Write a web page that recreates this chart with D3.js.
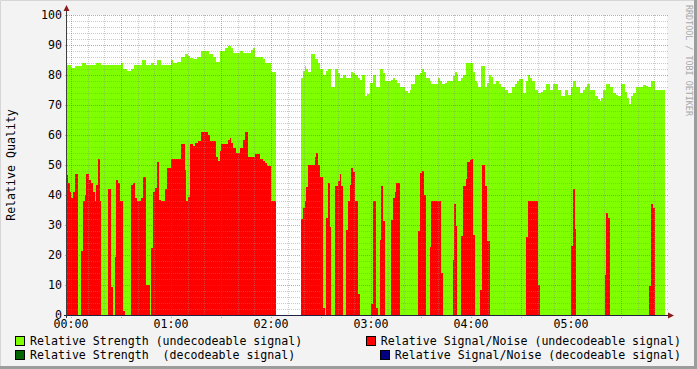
<!DOCTYPE html>
<html>
<head>
<meta charset="utf-8">
<script src="https://cdn.jsdelivr.net/npm/d3@7"></script>
<style>
  body { margin: 0; background: #f3f3f3; }
  text { font-family: "DejaVu Sans Mono", monospace; }
</style>
</head>
<body>
<svg id="chart" width="697" height="369"></svg>
<script>
// [minute after 00:00, value] - value holds until the next entry, null = no data
const strength = [
  [-2.4, 83.3], [-0.2, 82.5], [2.2, 83], [6.8, 84], [8.8, 83.3], [14.8, 84], [17.8, 83.3],
  [29.8, 84], [31.4, 82], [33.8, 81.3], [35.8, 82], [37.8, 83.3], [42.8, 85], [44.8, 83.3],
  [47.8, 84], [49.8, 83.3], [51.8, 85], [53.8, 83.3], [59.8, 85], [61.4, 84.1], [63.4, 84.4],
  [65.8, 86.1], [68.4, 87], [70.4, 86.4], [71.4, 85.8], [73.4, 85.2], [75.8, 86], [78, 88],
  [83, 87], [85, 86], [87, 84.3], [89.4, 88], [92.4, 89.1], [94.4, 89.8], [96, 89.1],
  [97.4, 87.2], [101.4, 88], [103.4, 87.2], [108, 88.3], [109.4, 89.1], [110.6, 86],
  [115, 85.2], [116.4, 84.1], [119.8, 81.1], [123, null],
  [137.8, 78.9], [139, 81.3], [140.2, 83], [141.2, 82], [142.2, 81.1], [143.8, 87],
  [146.6, 85.3], [148.2, 84], [149.4, 82], [151, 80], [153, 81.3], [154.2, 82], [155.8, 75.9],
  [158.2, 82], [160.2, 80.8], [161.2, 79.1], [163.2, 80], [165.2, 79.1], [167.8, 80.9],
  [169.2, 80.6], [170.6, 80], [172.2, 79], [173.2, 78.3], [174.8, 80], [176.6, 73.1],
  [177.8, 73.7], [179.4, 77.2], [181.2, 80], [182.8, 75.9], [185.6, 82], [187.2, 80.8],
  [188.6, 78.1], [191.8, 78.3], [193.2, 79], [194.6, 78.3], [195.8, 77.2], [197.2, 75.9],
  [200.6, 74.7], [202.4, 74.1], [203.4, 75], [204, 77], [206.4, 80], [209.4, 80.6],
  [210.8, 81.9], [211.8, 81.1], [213, 79.1], [215.4, 78.1], [216, 77], [220, 79],
  [221.4, 78.1], [222.8, 77], [224.4, 77.5], [225.4, 78.1], [229.4, 79.7], [230.4, 81.1],
  [231.4, 80.3], [232.4, 78.1], [234, 79], [235.4, 80], [237, 84.1], [241.4, 81.1],
  [242.4, 78.1], [243.4, 77.5], [244.4, 75.9], [246, 83], [248.4, 75.9], [249.4, 77.5],
  [251, 80], [252, 79.4], [253, 77], [255, 78.1], [257, 77], [258, 75.9], [260.4, 75],
  [262, 74.1], [264.4, 75.9], [266.4, 77], [267.4, 78.1], [268.8, 78.7], [271, 74.1],
  [273, 78.1], [274, 80], [275.4, 78.9], [276.4, 78.1], [278.4, 75], [280.2, 74.1],
  [282, 74.4], [283.4, 75], [284.8, 77], [287.4, 75], [289.4, 77], [292, 75], [294, 73.1],
  [296.4, 75], [298.4, 73.4], [299.8, 75.9], [301, 78.1], [302.8, 75.9], [305.4, 74.1],
  [307.4, 75], [308.4, 75.9], [309.8, 77], [311.4, 75], [314.4, 73.1], [316, 72],
  [317.4, 71.3], [318, 72.4], [319.4, 75], [321, 77], [323.4, 75.9], [325, 74.1],
  [327, 73.4], [328, 73.1], [330, 77], [332.4, 74.4], [333.8, 72.4], [335, 70.2],
  [336, 73.1], [337.4, 74], [339, 75.9], [343.4, 76.7], [345, 76.3], [346.4, 75.9],
  [347.8, 78.1], [350.4, 75], [356.4, null]
];

const signalNoise = [
  [-2.4, 46.7], [-1.8, 44], [-0.6, 41], [0.2, 39], [1.4, 41], [2.4, 47], [4.2, 0],
  [5.8, 21.4], [7.2, 38], [8.4, 40], [9, 47], [11, 45], [11.8, 44], [13.2, 41], [14.4, 38],
  [15, 43.3], [16.2, 52], [17.4, 38], [18.2, 0], [22.2, 42], [23.8, 9.4], [25.4, 0],
  [26.4, 19.4], [27.2, 45], [28.4, 44], [29.2, 38], [31.2, 1.3], [32.4, 0], [36, 43.3],
  [37.2, 44], [38.4, 39], [39.4, 38], [42.2, 39], [43.2, 46], [45.2, 10], [47.4, 0],
  [48.2, 22.3], [49, 41], [50.2, 42.5], [51.4, 51], [52.6, 38.3], [53.8, 38], [56.2, 42],
  [57.4, 49], [59.8, 52], [65.8, 57], [68.2, 48.3], [68.8, 38.1], [70, 39.2], [71.4, 57],
  [73.4, 56.3], [74.6, 57.2], [76.2, 58], [78, 61], [82, 60], [83.4, 58], [87, 52.6],
  [88.2, 51.3], [89.4, 54.6], [90, 57], [94, 58.3], [95.4, 59.1], [96, 57.4], [97.4, 55.7],
  [99, 54.1], [101.4, 55.8], [103, 58.3], [104.6, 61], [106.2, 52.8], [110.6, 53.6],
  [113.4, 52], [115, 51.3], [116.4, 50.7], [117.8, 49.6], [119.8, 38.1], [123, null],
  [137.8, 32], [139, 35.6], [140.2, 38], [141.2, 42.8], [142.2, 50], [146.2, 52.8],
  [147.2, 53.9], [148.2, 50], [149.4, 46.1], [151.2, 2.4], [152.2, 0], [153, 32.2],
  [154.2, 43.9], [155.2, 29.4], [155.8, 0], [158.2, 43], [160.2, 44.7], [161.2, 46.9],
  [161.8, 43], [163.2, 0], [165.2, 28.3], [166.2, 38], [167.2, 43.3], [168.2, 48.9],
  [169.2, 47.8], [170.6, 38], [172.2, 6.9], [173.2, 0], [180.2, 3.6], [181.2, 38],
  [182.8, 2.4], [184.2, 0], [185.6, 25], [186.2, 43], [187.2, 31.3], [188.6, 0],
  [191.8, 31.7], [193.2, 38.9], [194.2, 41.1], [195.2, 43.9], [197.2, 0],
  [208, 28], [209.4, 47.2], [210.4, 48], [212, 40], [213, 0], [215.4, 22.8], [216, 38],
  [221.8, 13.9], [223, 0], [229, 18.3], [230, 37], [230.8, 29.7], [231.8, 0], [234, 26.3],
  [235.4, 43.1], [236.8, 45.3], [237.4, 51.1], [239.4, 51.7], [240, 52], [241.4, 26.7],
  [242.4, 0], [245.4, 8.3], [246.4, 50], [248.4, 43], [249.4, 24.7], [251.4, 0],
  [272.8, 26.1], [274.4, 38], [280.2, 10], [281.4, 0], [299.8, 23], [301, 41.9],
  [302.2, 28.7], [302.8, 0], [320.4, 13.3], [321, 34.1], [322, 32.4], [323.4, 0],
  [347, 9.8], [348, 37], [349, 35.8], [350.4, 0], [356.4, null]
];

const yTickValues = [0, 10, 20, 30, 40, 50, 60, 70, 80, 90, 100];
const xTickMinutes = [0, 60, 120, 180, 240, 300];
const xTickLabels = ["00:00", "01:00", "02:00", "03:00", "04:00", "05:00"];

const legendLeft = [
  { label: "Relative Strength (undecodeable signal)", color: "#7fff00" },
  { label: "Relative Strength  (decodeable signal)", color: "#006400" }
];
const legendRight = [
  { label: "Relative Signal/Noise (undecodeable signal)", color: "#ff0000" },
  { label: "Relative Signal/Noise (decodeable signal)", color: "#000080" }
];

const W = 697, H = 369;
const plot = { left: 67, right: 667, top: 15, bottom: 315 };

const svg = d3.select("#chart");

// canvas + border
svg.append("rect").attr("width", W).attr("height", H).attr("fill", "#f3f3f3");
svg.append("path").attr("d", `M0.5,${H} V0.5 H${W}`).attr("fill", "none")
  .attr("stroke", "#d6d6d6").attr("stroke-width", 1);
svg.append("path").attr("d", `M${W - 1.5},0 V${H - 1.5} H0`).attr("fill", "none")
  .attr("stroke", "#9c9c9c").attr("stroke-width", 3);

const x = d3.scaleLinear().domain([-2.4, 357.6]).range([plot.left, plot.right]);
const y = d3.scaleLinear().domain([0, 100]).range([plot.bottom, plot.top]);

svg.append("rect")
  .attr("x", plot.left).attr("y", plot.top)
  .attr("width", plot.right - plot.left).attr("height", plot.bottom - plot.top)
  .attr("fill", "#ffffff");

// turn [t, v] runs into step points
const toSteps = list => {
  const pts = [];
  for (let i = 0; i < list.length - 1; i++) {
    const [t, v] = list[i];
    if (v == null) { pts.push({ t, v: null }); continue; }
    pts.push({ t, v }, { t: list[i + 1][0], v });
  }
  return pts;
};

const area = d3.area()
  .defined(d => d.v != null)
  .x(d => x(d.t))
  .y0(y(0))
  .y1(d => y(d.v));

svg.append("path").datum(toSteps(strength))
  .attr("d", area).attr("fill", "#7fff00").attr("shape-rendering", "crispEdges");
svg.append("path").datum(toSteps(signalNoise))
  .attr("d", area).attr("fill", "#ff0000").attr("shape-rendering", "crispEdges");

// grid on top of the data, rrdtool style
const grid = svg.append("g").attr("fill", "none").attr("shape-rendering", "crispEdges");
const minorY = d3.range(0, 101, 2).filter(v => v % 10 != 0);
const minorX = d3.range(0, 358, 10).filter(m => m % 30 != 0);
const majorX = d3.range(0, 358, 30);

grid.selectAll(".hmin").data(minorY).join("line")
  .attr("x1", plot.left).attr("x2", plot.right + 2)
  .attr("y1", d => Math.round(y(d)) + 0.5).attr("y2", d => Math.round(y(d)) + 0.5)
  .attr("stroke", "rgba(140,140,140,0.45)").attr("stroke-dasharray", "1,1");
grid.selectAll(".vmin").data(minorX).join("line")
  .attr("x1", d => Math.round(x(d)) + 0.5).attr("x2", d => Math.round(x(d)) + 0.5)
  .attr("y1", plot.top).attr("y2", plot.bottom + 2)
  .attr("stroke", "rgba(140,140,140,0.45)").attr("stroke-dasharray", "1,1");
grid.selectAll(".hmaj").data(yTickValues.filter(v => v > 0)).join("line")
  .attr("x1", plot.left - 2).attr("x2", plot.right + 2)
  .attr("y1", d => Math.round(y(d)) + 0.5).attr("y2", d => Math.round(y(d)) + 0.5)
  .attr("stroke", "rgba(200,60,60,0.5)").attr("stroke-dasharray", "1,1");
grid.selectAll(".vmaj").data(majorX).join("line")
  .attr("x1", d => Math.round(x(d)) + 0.5).attr("x2", d => Math.round(x(d)) + 0.5)
  .attr("y1", plot.top).attr("y2", plot.bottom + 3)
  .attr("stroke", "rgba(200,60,60,0.5)").attr("stroke-dasharray", "1,1");

// axes lines + arrows
svg.append("line").attr("x1", plot.left - 0.5).attr("x2", plot.left - 0.5)
  .attr("y1", plot.bottom + 3).attr("y2", 9).attr("stroke", "#404040");
svg.append("line").attr("x1", plot.left - 3).attr("x2", 670)
  .attr("y1", plot.bottom + 0.5).attr("y2", plot.bottom + 0.5).attr("stroke", "#202040");
svg.append("path").attr("d", `M${plot.left - 3.5},11 L${plot.left - 0.5},5 L${plot.left + 2.5},11 Z`)
  .attr("fill", "#8b1a1a");
svg.append("path").attr("d", `M668,${plot.bottom - 2.5} L674,${plot.bottom + 0.5} L668,${plot.bottom + 3.5} Z`)
  .attr("fill", "#8b1a1a");

// y labels
svg.append("g").selectAll("text").data(yTickValues).join("text")
  .attr("x", 62).attr("y", d => y(d) + 4)
  .attr("text-anchor", "end").attr("font-size", 11.6).attr("fill", "#000")
  .text(d => d);

// x labels
svg.append("g").selectAll("text").data(xTickMinutes).join("text")
  .attr("x", d => x(d)).attr("y", 328)
  .attr("text-anchor", "middle").attr("font-size", 11.6).attr("fill", "#000")
  .text((d, i) => xTickLabels[i]);

svg.append("text")
  .attr("transform", "translate(15,165) rotate(-90)")
  .attr("text-anchor", "middle").attr("font-size", 11.6).attr("fill", "#000")
  .text("Relative Quality");

svg.append("text")
  .attr("transform", "translate(686,5) rotate(90)")
  .attr("font-size", 8.4).attr("fill", "#a8a8a8")
  .text("RRDTOOL / TOBI OETIKER");

// legend
const rowY = [345, 359];
legendLeft.forEach((d, i) => {
  svg.append("rect").attr("x", 15.5).attr("y", rowY[i] - 8.5).attr("width", 9).attr("height", 9)
    .attr("fill", d.color).attr("stroke", "#000");
  svg.append("text").attr("x", 30).attr("y", rowY[i]).attr("font-size", 11.6).text(d.label)
    .attr("xml:space", "preserve").style("white-space", "pre");
});
legendRight.forEach((d, i) => {
  const t = svg.append("text").attr("x", 681).attr("y", rowY[i]).attr("text-anchor", "end")
    .attr("font-size", 11.6).text(d.label);
  const w = t.node().getComputedTextLength();
  svg.append("rect").attr("x", Math.round(681 - w - 15) + 0.5).attr("y", rowY[i] - 8.5)
    .attr("width", 9).attr("height", 9).attr("fill", d.color).attr("stroke", "#000");
});
</script>
</body>
</html>
